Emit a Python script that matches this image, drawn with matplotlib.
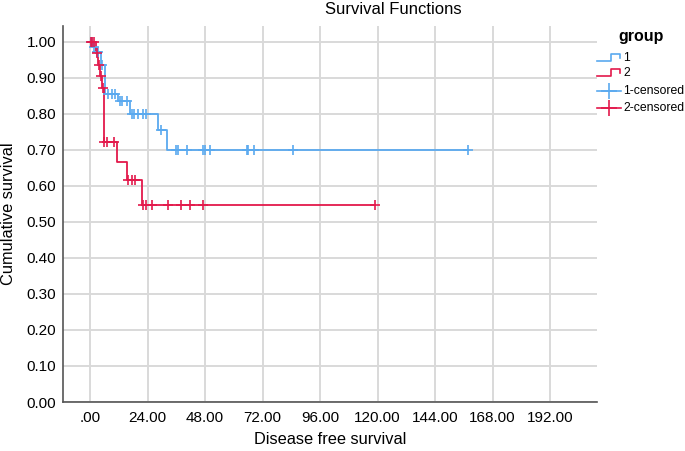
import numpy as np
import matplotlib
matplotlib.use("Agg")
import matplotlib.pyplot as plt
from matplotlib.lines import Line2D

plt.rcParams['font.family'] = ['Liberation Sans', 'DejaVu Sans']

# group 1: event times / survival after event
g1_t = [0, 1.2, 2.5, 4.5, 6.3, 11.7, 16.7, 28.4, 32.1]
g1_s = [1.0, 0.985, 0.97, 0.935, 0.855, 0.834, 0.80, 0.755, 0.70]
g1_end = 157.8
g1_cens_t = [0.5, 1.0, 1.8, 3.0, 3.5, 5.0, 7.5, 9.0, 10.4, 12.5, 13.4, 15.4,
             17.5, 18.4, 20.0, 22.0, 23.4, 29.5, 35.9, 36.7, 40.5, 47.2, 48.0,
             50.1, 65.5, 66.0, 68.5, 84.7, 157.8]

# group 2
g2_t = [0, 2.5, 3.3, 4.2, 5.0, 5.9, 11.3, 15.4, 21.7]
g2_s = [1.0, 0.967, 0.935, 0.905, 0.87, 0.72, 0.667, 0.617, 0.547]
g2_end = 119.0
g2_cens_t = [0.3, 1.0, 1.8, 2.8, 3.6, 4.5, 5.4, 6.0, 7.0, 10.0, 16.0, 17.5,
             18.8, 22.0, 23.4, 26.0, 32.6, 38.0, 41.7, 47.2, 119.0]

xticks = [0, 24, 48, 72, 96, 120, 144, 168, 192]
xtick_labels = ['.00', '24.00', '48.00', '72.00', '96.00', '120.00', '144.00', '168.00', '192.00']
yticks = np.arange(0, 1.01, 0.1)

BLUE = '#5aa9ef'
RED = '#e3194b'


def surv_at(t, times, surv):
   # survival value at time t for a step function (post)
   idx = np.searchsorted(times, t, side='right') - 1
   return surv[idx]


W, H = 685, 451
fig = plt.figure(figsize=(W / 100, H / 100), dpi=100)
ax = fig.add_axes([63 / W, 1 - 402 / H, (597 - 63) / W, (402 - 26) / H])

for times, surv, end, cens, col in [(g1_t, g1_s, g1_end, g1_cens_t, BLUE),
                                    (g2_t, g2_s, g2_end, g2_cens_t, RED)]:
   xs = list(times) + [end]
   ys = list(surv) + [surv[-1]]
   ax.step(xs, ys, where='post', color=col, lw=1.3, zorder=3)
   cy = [surv_at(t, times, surv) for t in cens]
   ax.plot(cens, cy, linestyle='none', marker='+', color=col, ms=7, mew=1.2, zorder=4)

ax.set_xlim(-11.3, 211.6)
ax.set_ylim(0, 1.043)
ax.set_xticks(xticks)
ax.set_xticklabels(xtick_labels)
ax.set_yticks(yticks)
ax.set_yticklabels(['%.2f' % v for v in yticks])
ax.grid(True, color='#d9d9d9', lw=1.4)
ax.set_axisbelow(True)
for s in ['top', 'right']:
   ax.spines[s].set_visible(False)
for s in ['left', 'bottom']:
   ax.spines[s].set_color('#555555')
   ax.spines[s].set_linewidth(1.2)
ax.tick_params(length=0, labelsize=11, colors='black', pad=5)
ax.tick_params(axis='x', pad=6.5)

fig.text(393 / W, 1 - 9 / H, 'Survival Functions', ha='center', va='center', fontsize=12)
fig.text(330 / W, 1 - 439 / H, 'Disease free survival', ha='center', va='center', fontsize=11.8)
fig.text(9 / W, 1 - 214 / H, 'Cumulative survival', ha='center', va='center', fontsize=11.8, rotation=90)

# legend drawn manually in figure coords
def fx(px):
   return px / W

def fy(py):
   return 1 - py / H

fig.text(fx(641), fy(36), 'group', ha='center', va='center', fontsize=11.5, fontweight='bold')
for py, col in [(58, BLUE), (73, RED)]:
   fig.add_artist(Line2D([fx(597), fx(611), fx(611), fx(620), fx(620)],
                         [fy(py + 3), fy(py + 3), fy(py - 4), fy(py - 4), fy(py)],
                         color=col, lw=1.2))
for py, col in [(91, BLUE), (108, RED)]:
   fig.add_artist(Line2D([fx(597), fx(621)], [fy(py), fy(py)], color=col, lw=1.2))
   fig.add_artist(Line2D([fx(609)], [fy(py)], color=col, marker='+', ms=12, mew=1.2))
for py, lab in [(58, '1'), (73, '2'), (91, '1-censored'), (108, '2-censored')]:
   fig.text(fx(623), fy(py), lab, ha='left', va='center', fontsize=8.8)

fig.savefig('out.png', dpi=100)
